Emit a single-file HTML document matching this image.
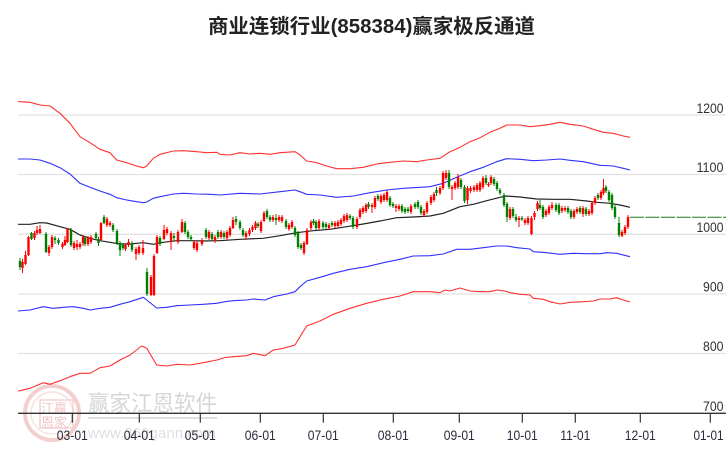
<!DOCTYPE html>
<html><head><meta charset="utf-8"><style>
html,body{margin:0;padding:0;background:#fff;}
svg{display:block;}
text{font-family:"Liberation Sans","Noto Sans CJK SC",sans-serif;}
</style></head><body>
<svg width="726" height="450" viewBox="0 0 726 450" xmlns="http://www.w3.org/2000/svg">
<rect width="726" height="450" fill="#fff"/>
<!-- title -->
<text x="371.5" y="33" text-anchor="middle" font-size="20" font-weight="bold" fill="#222" textLength="327" lengthAdjust="spacingAndGlyphs">商业连锁行业(858384)赢家极反通道</text>
<!-- watermark -->
<g opacity="0.9">
<circle cx="52" cy="413" r="27" fill="none" stroke="#f2cccc" stroke-width="4"/>
<circle cx="52" cy="413" r="21" fill="none" stroke="#f6dede" stroke-width="1.5"/>
<rect x="40" y="400" width="33" height="28" fill="none" stroke="#f2cccc" stroke-width="1.5"/>
<text x="41" y="413" font-size="13" fill="#efc0c0">江赢</text>
<text x="41" y="427" font-size="13" fill="#efc0c0">恩家</text>
<text x="88" y="411" font-size="22" fill="#d2d2d2" textLength="129" lengthAdjust="spacingAndGlyphs">赢家江恩软件</text>
<line x1="88" y1="418" x2="217" y2="418" stroke="#dcdcdc" stroke-width="2"/>
<text x="88" y="438" font-size="15" fill="#dcdcdc" textLength="128" lengthAdjust="spacingAndGlyphs">www.360gann.com</text>
</g>
<!-- grid -->
<g stroke="#e2e2e2" stroke-width="1.3">
<line x1="18" y1="115" x2="726" y2="115"/>
<line x1="18" y1="174.5" x2="726" y2="174.5"/>
<line x1="18" y1="234.3" x2="726" y2="234.3"/>
<line x1="18" y1="294" x2="726" y2="294"/>
<line x1="18" y1="353.5" x2="726" y2="353.5"/>
</g>
<!-- right labels -->
<g font-size="14" fill="#333" text-anchor="end">
<text x="723.5" y="112.8" textLength="27" lengthAdjust="spacingAndGlyphs">1200</text>
<text x="723.5" y="172.2" textLength="27" lengthAdjust="spacingAndGlyphs">1100</text>
<text x="723.5" y="232" textLength="27" lengthAdjust="spacingAndGlyphs">1000</text>
<text x="723.5" y="291.7" textLength="20.5" lengthAdjust="spacingAndGlyphs">900</text>
<text x="723.5" y="351.2" textLength="20.5" lengthAdjust="spacingAndGlyphs">800</text>
<text x="723.5" y="411" textLength="20.5" lengthAdjust="spacingAndGlyphs">700</text>
</g>
<!-- channel lines -->
<g fill="none" stroke-width="1.1" stroke-linejoin="round">
<path stroke="#ff3030" d="M18,101.5 L20,101.7 30,102.3 40,105 50,106 60,113.3 70,123.3 80,136.7 90,142.7 100,149.3 110,152.7 116.7,160 126.7,162.7 136.7,166 143.3,167.7 146.7,166 153.3,158.3 160,154.3 173.3,151 183.3,150.7 196.7,151.7 206.7,152.7 216.7,152.3 220,154.3 230,155 240,152.7 250,154 260,153.3 270,154.3 280,152.7 295,151.7 300,155 306.7,161 316.7,162.7 326.7,166 336.7,168.7 350,168.7 363.3,167.3 376.7,164 390,162.3 403.3,161 416.7,161.7 426.7,160 440,158.3 450,151.7 460,147.3 470,141.7 480,137.7 490,132.3 500,128.3 506.7,125 520,125 530,126.7 540,125.7 550,124.3 560,122.3 570,124.3 583.3,126 593.3,129.3 603.3,132.3 613.3,133.3 623.3,136 630,137.3"/>
<path stroke="#3030ff" d="M18,159 L30,159 40,160 50,163.3 60,167.7 70,174 80,183.3 90,187.3 100,191 110,194.3 116.7,197.7 126.7,200 136.7,201.7 143.3,202.7 146.7,202 153.3,198.3 160,196.7 173.3,194 183.3,193.3 196.7,194 210,194.3 220,195 240,193.3 260,194 280,191.7 295,190 300,191.7 306.7,194.3 320,195 336.7,197.3 353.3,196 370,192.7 386.7,190 403.3,188.3 420,187.3 430,186.7 443.3,183.3 456.7,177.3 470,171.7 483.3,167.3 496.7,161.7 506.7,158.7 520,159.3 533.3,160.7 546.7,160 560,159 570,160.3 583.3,161.7 600,165.3 613.3,166 623.3,168.3 630,170"/>
<path stroke="#222" stroke-width="1.2" d="M18,224.3 L30,224.3 40,222.7 46.7,223 60,226.7 70,229.3 80,235 90,238.3 100,240.7 110,242.3 120,244 130,244 143.3,242.7 153.3,244.3 163.3,242.3 176.7,240.7 190,240.7 203.3,241 216.7,240.7 220,240.7 240,239.3 263.3,238.3 280,235.7 296.7,232.7 313.3,230.7 330,229.3 346.7,226.7 363.3,224 380,221 396.7,217.7 413.3,217 430,216 443.3,213.3 460,206.7 473.3,204.3 486.7,200.7 500,197.3 506.7,196 520,197 536.7,199 553.3,199.3 570,199.3 586.7,201 596.7,202.3 610,203.3 620,205 630,207.3"/>
<path stroke="#3030ff" d="M18,311 L30,310 43.3,306.7 53.3,308.3 63.3,307.3 73.3,306.7 83.3,308.3 90,310 100,308.3 110,307.3 120,304.3 130,301.7 143.3,297.3 146.7,300 156.7,308 166.7,307.3 176.7,305.7 190,305 203.3,304.3 216.7,303.3 225,301.7 233.3,300.7 246.7,300 253.3,299 265,300 273.3,296.7 286.7,294 295,291.7 300,286.7 306.7,281 320,277.3 333.3,273.3 350,269.3 366.7,266.7 383.3,262.7 400,259.3 413.3,256 430,255.7 443.3,254 456.7,249.3 470,249.3 483.3,247.7 496.7,246 506.7,246 516.7,247.7 530,249 533.3,251.7 546.7,252.7 560,254.3 573.3,253.3 586.7,253.7 600,253.7 606.7,252.7 616.7,253.3 630,256.7"/>
<path stroke="#ff3030" d="M18,391 L20,390.7 30,388.3 43.3,382.7 50,384.3 60,380.7 70,376.7 80,373.3 90,373.3 100,367.7 110,366 120,360 130,355 141.7,346 146.7,348.3 156.7,365 166.7,366 176.7,364.3 190,365 203.3,362.7 216.7,360 225,357.5 233.3,356.7 246.7,355.7 253.3,353.3 265,355.7 273.3,350 283.3,348.3 295,345 300,336.7 306.7,326 320,321 333.3,314.3 350,308.3 366.7,303.3 383.3,299.3 400,296 413.3,291.7 430,291.7 440,292.7 445,290 450,291 460,288 470,291 480,291.7 490,291.7 496.7,290 505,291 510,292.7 520,294.3 530,295 533.3,298.3 543.3,299.3 550,301.7 560,304 570,302.3 583.3,301.7 593.3,301 600,299 610,299 616.7,297.7 623.3,300 630,302"/>
</g>
<!-- dashed last-price line -->
<line x1="630" y1="217.3" x2="726" y2="217.3" stroke="#1a7a1a" stroke-width="1" stroke-dasharray="14,1.5"/>
<!-- red candles -->
<path fill="none" stroke="#f00" stroke-width="1" d="M22.5 259V273M25.5 251V265M28.5 236V256M34.5 231V240M37 226V235M40 225V234M49 245V256M52 235V249M62.5 242V249M65 236V246M67.5 228V243M74 241V250M77 240V250M80 242V249M83 235V246M88 236V246M91 235V244M101 222V241M107 217V227M110 221V227M125.5 243V251M128.5 239V247M136 247V260M139 245V255M143 240V255M151 275V296M154 254V296M157 235V254M164 225V240M167 227V235M171 231V250M178 230V244M182 219V233M194 240V250M197 241V252M202 238V246M209 230V240M215 235V243M221 230V239M227 230V240M230 226V237M233 217V229M246 231V240M249.5 228V236M252.5 225V232M255.5 221V230M261 220V233M264 211V222M273 215V222M279 215V222M282 215V223M289 223V231M292 220V229M304 241V255M307 228V245M311 220V230M319 219V230M329 223V230M335 221V228M338 220V228M341 218V226M344 214V223M347 213V222M357 217V229M360 208V219M363 206V214M366 203V213M372 203V213M375 196V209M381 194V204M384 193V202M387 190V202M396 204V212M399 204V211M411 204V214M424 209V217M427 201V214M431 195V205M434 192V202M440 186V195M443 171V190M446 170V180M452 185V200M455 181V190M458 174V189M467.5 186V204M470.5 186V193M474 185V192M477 183V192M480 181V192M483 176V189M488.5 182V187M491 175V185M510 207V220M519 216V227M525 218V225M528 216V225M531.5 216V235M534.5 211V220M537.5 201V211M546 209V217M549 205V215M552 202V210M562 206V213M565 206V212M574 209V219M577 207V214M583 206V217M589 209V216M592 201V215M595 196V205M601 190V200M603.5 179V195M622 230V237M625 225V235M628 215V229"/>
<path fill="none" stroke="#f00" stroke-width="2.4" d="M22.5 262V268M25.5 255V264M28.5 237V255M34.5 233V238M37 230V233M40 229V233M49 247V253M52 237V247M62.5 244V247M65 240V245M67.5 229V242M74 243V248M77 244V247M80 244V247M83 237V243M88 238V244M91 237V242M101 223V240M107 219V225M110 223V225M125.5 245V249M128.5 242V245M136 249V254M139 247V253M143 248V253M151 277V295M154 256V295M157 237V253M164 230V239M167 229V233M171 233V242M178 232V242M182 222V232M194 242V248M197 243V250M202 240V244M209 232V238M215 237V241M221 232V237M227 232V238M230 228V235M233 220V228M246 233V237M249.5 230V234M252.5 227V230M255.5 223V228M261 222V231M264 213V221M273 217V220M279 217V220M282 217V221M289 225V229M292 222V227M304 243V253M307 230V244M311 222V228M319 221V228M329 225V228M335 223V226M338 222V226M341 220V224M344 216V221M347 215V220M357 219V227M360 210V217M363 208V212M366 205V211M372 205V207M375 198V207M381 196V202M384 195V200M387 192V200M396 206V208M399 206V209M411 206V212M424 211V215M427 203V212M431 197V203M434 194V200M440 188V193M443 173V188M446 173V178M452 187V189M455 183V188M458 177V187M467.5 188V200M470.5 188V191M474 187V190M477 185V190M480 183V190M483 178V187M488.5 184V185.5M491 177V183M510 209V218M519 218V220M525 220V223M528 218V223M531.5 218V234M534.5 213V217M537.5 203V209M546 211V215M549 207V213M552 205V208M562 208V211M565 208V210M574 211V217M577 209V212M583 208V214M589 211V214M592 203V213M595 198V203M601 192V198M603.5 188V193M622 232V236M625 227V233M628 217V227"/>
<!-- green candles -->
<path fill="none" stroke="#008000" stroke-width="1" d="M20 258V270M31.5 232V240M46 232V253M55 236V244M58.5 238V245M71 228V247M85 236V246M96 232V240M98.5 237V246M104 215V224M113 223V232M117 229V245M120 241V256M123 243V250M132 241V252M147 268V296M160 236V246M174 233V241M185 221V234M188 230V239M191 235V241M206 228V239M212 232V241M218 230V239M224 231V239M236 216V225M240 220V230M243 228V237M258 222V228M267 209V219M270 215V222M276 214V225M286 219V229M295 226V237M298 231V249M301 243V250M313.5 219V225M316 220V230M323 221V229M326 222V229M332 221V227M350 214V220M353 216V229M368.5 202V209M378 194V201M390 196V207M393 202V208M402 204V213M405 207V214M408 207V213M415 202V209M418 200V209M421 205V215M436.5 187V196M449 170V189M461 178V189M464.5 185V203M486 175V185M494 177V186M497 181V191M500 188V195M504 193V207M507 202V222M513 207V218M516 214V222M522 216V221M540 200V210M543 205V219M556 203V212M559 203V215M568 206V214M571 209V219M580 206V214M586 207V216M598 193V200M606 185V193M609 190V202M612 193V210M615 205V219M619 217V237"/>
<path fill="none" stroke="#008000" stroke-width="2.4" d="M20 261V267M31.5 233V239M46 234V252M55 238V240M58.5 240V243M71 230V245M85 238V244M96 234V238M98.5 239V243M104 217V223M113 225V230M117 231V243M120 243V250M123 245V248M132 243V250M147 272V294M160 238V244M174 236V238M185 223V232M188 232V237M191 237V239M206 230V237M212 234V239M218 232V237M224 233V237M236 219V222M240 222V228M243 230V235M258 224V226M267 211V217M270 217V220M276 218V220M286 221V227M295 228V235M298 233V247M301 245V248M313.5 221V223M316 222V228M323 223V227M326 224V227M332 223V225M350 216V218M353 218V227M368.5 204V207M378 196V199M390 198V205M393 204V206M402 206V211M405 209V212M408 209V211M415 204V207M418 202V207M421 207V213M436.5 190V193M449 173V187M461 180V187M464.5 187V201M486 178V183M494 179V184M497 183V189M500 190V193M504 195V205M507 204V217M513 209V216M516 217V220M522 218V219.5M540 205V208M543 207V217M556 205V210M559 205V213M568 208V212M571 211V217M580 208V212M586 209V214M598 195V198M606 187V191M609 192V200M612 195V208M615 207V217M619 223V235"/>
<!-- x axis -->
<line x1="18" y1="413.3" x2="726" y2="413.3" stroke="#333" stroke-width="1.3"/>
<g stroke="#333" stroke-width="1.2">
<line x1="72.3" y1="413" x2="72.3" y2="422.7"/>
<line x1="139.3" y1="413" x2="139.3" y2="422.7"/>
<line x1="200.3" y1="413" x2="200.3" y2="422.7"/>
<line x1="260.3" y1="413" x2="260.3" y2="422.7"/>
<line x1="323.3" y1="413" x2="323.3" y2="422.7"/>
<line x1="393.3" y1="413" x2="393.3" y2="422.7"/>
<line x1="459.3" y1="413" x2="459.3" y2="422.7"/>
<line x1="522.3" y1="413" x2="522.3" y2="422.7"/>
<line x1="575.3" y1="413" x2="575.3" y2="422.7"/>
<line x1="640.3" y1="413" x2="640.3" y2="422.7"/>
<line x1="710.3" y1="413" x2="710.3" y2="422.7"/>
</g>
<g font-size="14" fill="#2a2a3a" text-anchor="middle">
<text x="72.3" y="440" textLength="31" lengthAdjust="spacingAndGlyphs">03-01</text>
<text x="139.3" y="440" textLength="31" lengthAdjust="spacingAndGlyphs">04-01</text>
<text x="200.3" y="440" textLength="31" lengthAdjust="spacingAndGlyphs">05-01</text>
<text x="260.3" y="440" textLength="31" lengthAdjust="spacingAndGlyphs">06-01</text>
<text x="323.3" y="440" textLength="31" lengthAdjust="spacingAndGlyphs">07-01</text>
<text x="393.3" y="440" textLength="31" lengthAdjust="spacingAndGlyphs">08-01</text>
<text x="459.3" y="440" textLength="31" lengthAdjust="spacingAndGlyphs">09-01</text>
<text x="522.3" y="440" textLength="31" lengthAdjust="spacingAndGlyphs">10-01</text>
<text x="575.3" y="440" textLength="30" lengthAdjust="spacingAndGlyphs">11-01</text>
<text x="640.3" y="440" textLength="31" lengthAdjust="spacingAndGlyphs">12-01</text>
<text x="708.5" y="440" textLength="30" lengthAdjust="spacingAndGlyphs">01-01</text>
</g>
</svg>
</body></html>
